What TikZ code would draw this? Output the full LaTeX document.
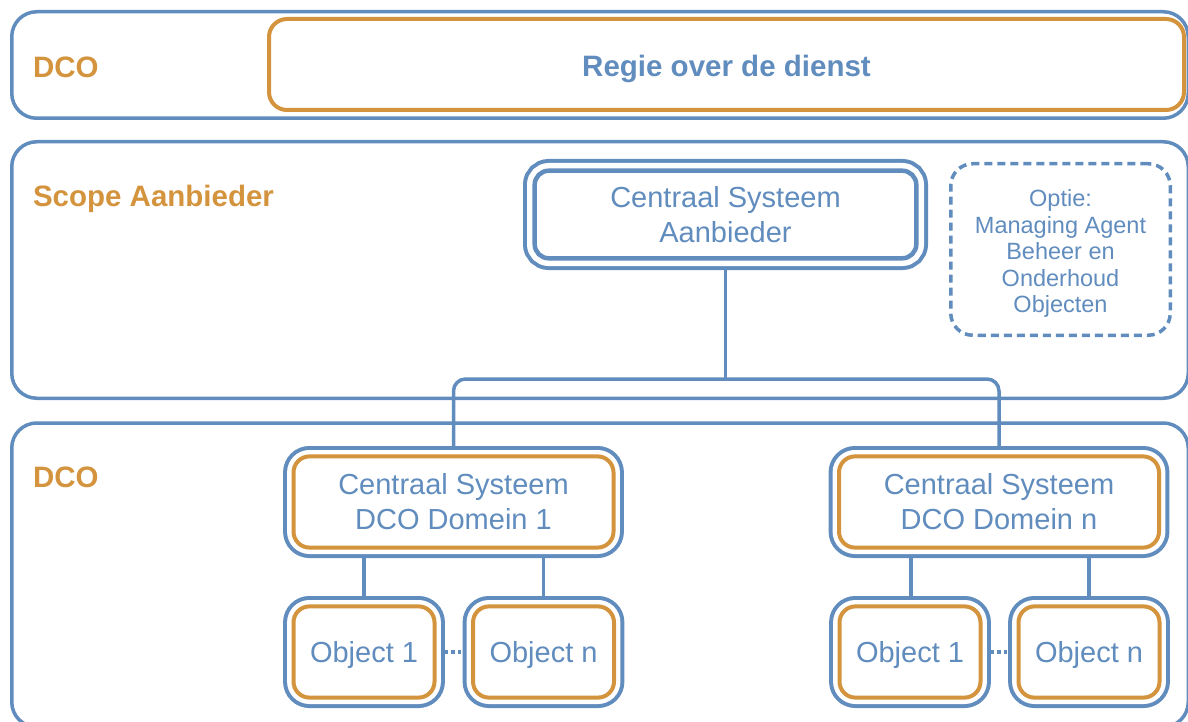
\documentclass[tikz,border=0pt]{standalone}
\usepackage{fontspec}
\setmainfont{Liberation Sans}
\definecolor{myblue}{RGB}{96,140,190}
\definecolor{myorange}{RGB}{212,148,62}
\begin{document}
\begin{tikzpicture}[x=1pt,y=-1pt,
  every node/.style={inner sep=0pt, outer sep=0pt},
  container/.style={draw=myblue, line width=3.5pt, rounded corners=25pt, minimum width=1176.5pt},
  titletext/.style={text=myorange, font=\fontsize{29.5}{34}\selectfont\bfseries, anchor=base west},
  lbl/.style={text=myblue, font=\fontsize{29}{35}\selectfont, align=center},
  bluedouble/.style={draw=myblue, line width=4.5pt, rounded corners=14pt,
    preaction={draw=myblue, line width=23.4pt},
    preaction={fill=white, draw=white, line width=15.4pt},
    outer sep=11.7pt},
  orangedouble/.style={draw=myorange, line width=4pt, rounded corners=16pt,
    preaction={draw=myblue, line width=20.8pt},
    preaction={fill=white, draw=white, line width=12.8pt},
    outer sep=10.4pt, minimum height=91.2pt},
  domainbox/.style={orangedouble, lbl, minimum width=320pt},
  objbox/.style={orangedouble, lbl, minimum width=141pt, text depth=0pt},
  conn/.style={draw=myblue, line width=3.5pt},
  dotconn/.style={draw=myblue, line width=3.5pt, dash pattern=on 3.5pt off 3pt},
  optbox/.style={draw=myblue, line width=3.5pt, dash pattern=on 8pt off 5pt, rounded corners=22pt,
    minimum width=219.5pt, minimum height=171.5pt, text=myblue, align=center,
    font=\fontsize{23.5}{26.5}\selectfont}
]
\useasboundingbox (0,0) rectangle (1188,722);

% containers
\node[container, minimum height=106.5pt] (topbox) at (600,65) {};
\node[container, minimum height=256.5pt] (scope) at (600,270) {};
\node[container, minimum height=304pt] (dcobox) at (600,575) {};

\node[draw=myorange, line width=4pt, rounded corners=18pt, minimum width=915pt, minimum height=91pt] (regie) at (726.5,64.5) {};
\node[anchor=base, text=myblue, font=\fontsize{29.5}{34}\selectfont\bfseries] (regietxt) at (726.5,77) {Regie over de dienst};

\node[titletext] (t1) at (33,78) {DCO};
\node[titletext] (t2) at (33,207) {Scope Aanbieder};
\node[titletext] (t3) at (33,487) {DCO};

% connectors
\coordinate (bus) at (725.5,379);
\coordinate (d1c) at (453.5,502);
\coordinate (dnc) at (999,502);
\draw[conn] (725.5,270) -- (bus);
\draw[conn, rounded corners=12pt] (453.5,446) |- (bus) -| (999,446);

\draw[conn] (364,558) -- (364,596);
\draw[conn] (543.5,558) -- (543.5,596);
\draw[conn] (911,558) -- (911,596);
\draw[conn] (1089,558) -- (1089,596);

% nodes
\node[bluedouble, lbl, minimum width=381.6pt, minimum height=87.6pt] (aan) at (725.5,214.5) {Centraal Systeem\\Aanbieder};
\node[optbox] (opt) at (1060.5,249.5) {};
\node[text=myblue, align=center, font=\fontsize{23.5}{26.5}\selectfont] (opttxt) at (1060.5,253.5) {Optie:\\Managing Agent\\Beheer en\\Onderhoud\\Objecten};

\node[domainbox] (d1) at (d1c) {Centraal Systeem\\DCO Domein 1};
\node[domainbox] (dn) at (dnc) {Centraal Systeem\\DCO Domein n};

\node[objbox] (o1L) at (364,652) {Object 1};
\node[objbox] (onL) at (543.5,652) {Object n};
\node[objbox] (o1R) at (910,652) {Object 1};
\node[objbox] (onR) at (1089,652) {Object n};

\draw[dotconn] (o1L.east) -- (onL.west);
\draw[dotconn] (o1R.east) -- (onR.west);
\end{tikzpicture}
\end{document}
